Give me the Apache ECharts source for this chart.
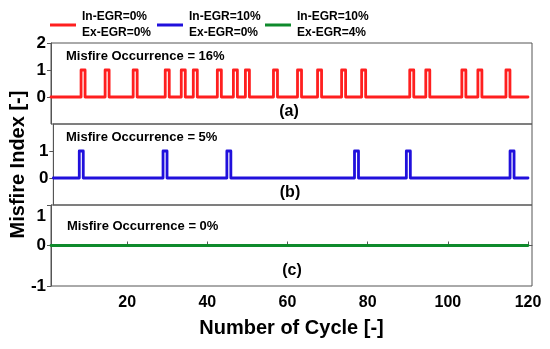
<!DOCTYPE html>
<html>
<head>
<meta charset="utf-8">
<script src="https://cdn.jsdelivr.net/npm/echarts@6/dist/echarts.min.js"></script>
<style>html,body{margin:0;padding:0;background:#fff;}#c{width:550px;height:349px;}</style>
</head>
<body>
<div id="c"></div>
<script>
// ---- data ----
const cycles = Array.from({length: 120}, (_, i) => i + 1);   // cycle numbers 1..120
const misfireA = [9, 15, 22, 30, 34, 37, 43, 47, 50, 57, 63, 68, 74, 79, 91, 95, 104, 108, 115];
const misfireB = [8, 29, 45, 77, 90, 116];
const misfireC = [];
const seriesNames = ['In-EGR=0%\nEx-EGR=0%', 'In-EGR=10%\nEx-EGR=0%', 'In-EGR=10%\nEx-EGR=4%'];
const occurrence = ['Misfire Occurrence = 16%', 'Misfire Occurrence = 5%', 'Misfire Occurrence = 0%'];
const panelTags = ['(a)', '(b)', '(c)'];
const xTicks = [20, 40, 60, 80, 100, 120];
const yTicksA = [0, 1, 2];
const yTicksB = [0, 1];
const yTicksC = [-1, 0, 1];

// misfire index per cycle (1 = misfire, 0 = normal), drawn as a step signal
const indexOf = (mis) => cycles.map(c => (mis.includes(c) ? 1 : 0));
const toStep = (vals) => {
  const pts = [];
  vals.forEach((v, k) => {
    const c = cycles[k];
    const prev = k > 0 ? vals[k - 1] : v;
    if (k === 0) { pts.push([c, v]); return; }
    if (v !== prev) { pts.push([c - 0.5, prev]); pts.push([c - 0.5, v]); }
    if (k === vals.length - 1) pts.push([c, v]);
  });
  return pts;
};
const colors = ['#ff1f1f', '#2010dc', '#0f8a2c'];
const FONT = 'Liberation Sans';

const tops = [43, 124, 205];
const H = 81;
const grids = tops.map(t => ({left: 51, right: 18, top: t, height: H, show: true, borderColor: '#555', borderWidth: 1, backgroundColor: 'transparent'}));

const xAxes = [0, 1, 2].map(i => ({
  type: 'value', gridIndex: i, min: 1, max: 121,
  axisLine: {show: i === 2, lineStyle: {color: '#555'}},
  axisTick: {show: i === 2, inside: true, length: 4, customValues: xTicks, lineStyle: {color: '#555'}},
  axisLabel: {show: i === 2, customValues: xTicks, color: '#000', fontFamily: FONT, fontWeight: 'bold', fontSize: 16, margin: 9},
  splitLine: {show: false},
  name: i === 2 ? 'Number of Cycle [-]' : '',
  nameLocation: 'middle', nameGap: 32,
  nameTextStyle: {color: '#000', fontFamily: FONT, fontWeight: 'bold', fontSize: 20}
}));

const yTickSets = [yTicksA, yTicksB, yTicksC];
const yRanges = [[-1, 2], [-1, 2], [-1, 1]];
const yAxes = [0, 1, 2].map(i => ({
  type: 'value', gridIndex: i, min: yRanges[i][0], max: yRanges[i][1],
  axisLine: {show: true, lineStyle: {color: '#555'}},
  axisTick: {show: true, inside: false, length: 4, customValues: yTickSets[i], lineStyle: {color: '#555'}},
  axisLabel: {
    customValues: yTickSets[i], color: '#000', fontFamily: FONT, fontWeight: 'bold', fontSize: 17, margin: 5,
    formatter: (v) => (i === 2 && v === 1) ? '{s| }\n{d|1}' : String(v),
    rich: {
      s: {height: 22, lineHeight: 22, fontSize: 4},
      d: {lineHeight: 20, color: '#000', fontFamily: FONT, fontWeight: 'bold', fontSize: 17}
    }
  },
  splitLine: {show: false},
  name: i === 1 ? 'Misfire Index [-]' : '',
  nameLocation: 'middle', nameRotate: 90, nameGap: 24,
  nameTextStyle: {color: '#000', fontFamily: FONT, fontWeight: 'bold', fontSize: 20}
}));

const misSets = [misfireA, misfireB, misfireC];
const series = [0, 1, 2].map(i => ({
  name: seriesNames[i], type: 'line',
  xAxisIndex: i, yAxisIndex: i,
  data: toStep(indexOf(misSets[i])),
  showSymbol: false, symbol: 'none',
  lineStyle: {color: colors[i], width: 2.8, join: 'round', cap: 'round'},
  itemStyle: {color: colors[i]},
  animation: false
}));

const legendLefts = [50, 157, 265];
const legends = [0, 1, 2].map(i => ({
  data: [seriesNames[i]], left: legendLefts[i], top: 9, padding: 0,
  icon: 'rect', itemWidth: 26, itemHeight: 3, itemGap: 0,
  textStyle: {color: '#000', fontFamily: FONT, fontWeight: 'bold', fontSize: 12, lineHeight: 16, padding: [0, 0, 0, 1]},
  selectedMode: false
}));

const textPos = [[66, 57], [66, 138], [67, 227]];
const tagPos = [[289, 112], [290, 193], [292, 271]];
const graphics = [];
[0, 1, 2].forEach(i => {
  graphics.push({type: 'text', left: textPos[i][0], top: textPos[i][1] - 7,
    style: {text: occurrence[i], fill: '#000', font: 'bold 13px "' + FONT + '"'}});
  graphics.push({type: 'text', x: tagPos[i][0], y: tagPos[i][1],
    style: {text: panelTags[i], fill: '#000', font: 'bold 16px "' + FONT + '"', align: 'center', verticalAlign: 'middle'}});
});

const chart = echarts.init(document.getElementById('c'), null, {renderer: 'canvas'});
chart.setOption({
  animation: false,
  backgroundColor: '#fff',
  grid: grids, xAxis: xAxes, yAxis: yAxes,
  legend: legends,
  series: series,
  graphic: graphics
});
</script>
</body>
</html>
